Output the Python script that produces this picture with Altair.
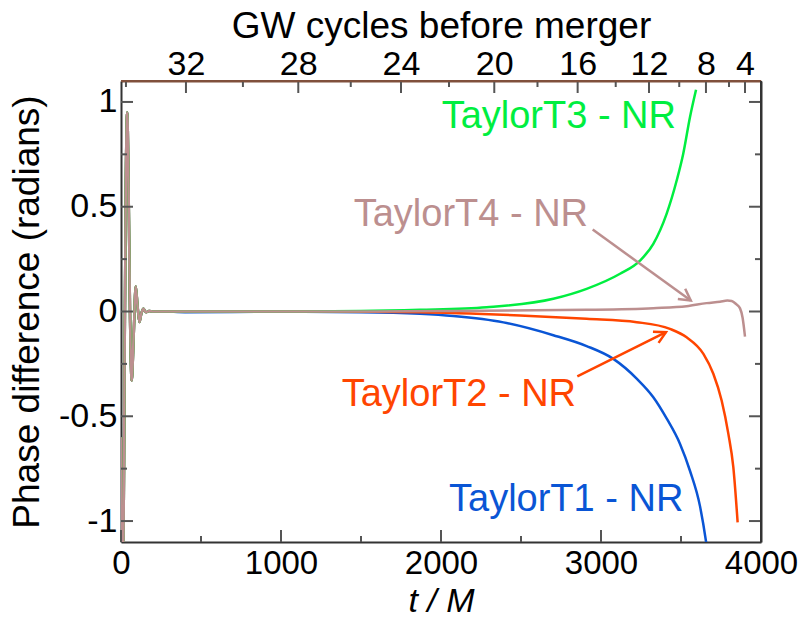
import math
import altair as alt
import pandas as pd

W, H = 640, 461
X_DOM = [0, 4000]
Y_DOM = [-1.1, 1.1]
FONT = "Liberation Sans"

series_names = ["TaylorT1 - NR", "TaylorT2 - NR", "TaylorT3 - NR", "TaylorT4 - NR"]
series_colors = ["#0a55d5", "#ff4500", "#00ee40", "#bc8f8f"]

# shared ringing at the start (all four curves nearly coincide)
early_t = [0, 6, 14, 22, 30, 39, 48, 57, 67, 79, 92, 103, 115, 127, 140, 156, 175, 200, 260]
early_phase = [-0.6, -1.5, -1.3, -0.3, 0.6, 0.95, 0.55, -0.05, -0.33, -0.12, 0.12, 0.03, -0.05, -0.01, 0.013, -0.004, 0.002, 0.0, 0.0]

t1_t = [400, 1000, 1500, 1869, 2077, 2390, 2702, 2910, 3077, 3223, 3327, 3410, 3494, 3556, 3619, 3656, 3690]
t1_phase = [-0.003, -0.001, -0.003, -0.011, -0.022, -0.052, -0.113, -0.165, -0.226, -0.320, -0.409, -0.51, -0.632, -0.76, -0.93, -1.096, -1.3]

t2_t = [400, 1000, 1500, 1869, 2494, 2910, 3223, 3431, 3535, 3640, 3702, 3754, 3796, 3827, 3854]
t2_phase = [0.0, 0.0, -0.001, -0.003, -0.019, -0.035, -0.051, -0.083, -0.123, -0.202, -0.297, -0.425, -0.584, -0.743, -1.006]

t3_t = [400, 1000, 1500, 1869, 2285, 2702, 2910, 3119, 3244, 3327, 3410, 3473, 3514, 3556, 3594]
t3_phase = [0.0, 0.0, 0.002, 0.008, 0.0205, 0.0606, 0.108, 0.18, 0.243, 0.323, 0.466, 0.625, 0.753, 0.927, 1.058]

t4_t = [400, 1000, 1500, 2000, 2910, 3327, 3535, 3660, 3744, 3790, 3817, 3845, 3869, 3885, 3900]
t4_phase = [0.0, 0.0, 0.0, 0.002, 0.008, 0.016, 0.025, 0.04, 0.047, 0.052, 0.05, 0.035, 0.015, -0.03, -0.12]

late_t = [t1_t, t2_t, t3_t, t4_t]
late_phase = [t1_phase, t2_phase, t3_phase, t4_phase]

# axis ticks
x_major = [0, 1000, 2000, 3000, 4000]
x_minor = [500, 1500, 2500, 3500]
y_major = [-1, -0.5, 0, 0.5, 1]
y_minor = [-0.75, -0.25, 0.25, 0.75]
cycle_labels = ["32", "28", "24", "20", "16", "12", "8", "4"]
cycle_t = [406, 1108, 1750, 2333, 2854, 3300, 3656, 3900]
cycle_minor_t = [31, 762, 1436, 2050, 2603, 3092, 3489, 3800]

# annotations
ann_text = ["TaylorT1 - NR", "TaylorT2 - NR", "TaylorT3 - NR", "TaylorT4 - NR"]
ann_t = [2050, 2844, 2004, 2919]
ann_phase = [-0.95, -0.449, 0.8735, 0.407]
ann_align = ["left", "right", "left", "right"]

arrow_series = ["TaylorT4 - NR", "TaylorT2 - NR"]
arrow_t0 = [2948, 2852]
arrow_p0 = [0.391, -0.310]
arrow_t1 = [3561, 3406]
arrow_p1 = [0.0525, -0.0988]

color_of = dict(zip(series_names, series_colors))

rows = []
for name, lt, lp in zip(series_names, late_t, late_phase):
    for t, p in zip(early_t + lt, early_phase + lp):
        rows.append({"series": name, "t": t, "phase": p})
df = pd.DataFrame(rows)

xs = alt.Scale(domain=X_DOM, nice=False, zero=False)
ys = alt.Scale(domain=Y_DOM, nice=False, zero=False)

AX_COLOR = "#333333"
TOP_COLOR = "#80503c"
TICK_COLOR = "#555555"

lines = alt.Chart(df).mark_line(clip=True, strokeWidth=2.5, interpolate="monotone").encode(
    x=alt.X("t:Q", scale=xs, axis=alt.Axis(
        orient="bottom", values=x_major, ticks=False, grid=False, labelFlush=False,
        labelExpr="toString(datum.value)",
        domainColor=AX_COLOR, domainWidth=2, labelFont=FONT, labelFontSize=33,
        labelColor="black", labelPadding=5, title="t / M", titleFont=FONT,
        titleFontSize=34, titleFontStyle="italic", titleFontWeight="normal",
        titleColor="black", titleBaseline="alphabetic", titleY=69)),
    y=alt.Y("phase:Q", scale=ys, axis=alt.Axis(
        orient="left", values=y_major, ticks=False, grid=False, labelFlush=False,
        labelExpr="toString(datum.value)", domainColor=AX_COLOR, domainWidth=2,
        labelFont=FONT, labelFontSize=34, labelColor="black", labelPadding=4,
        title="Phase difference (radians)", titleFont=FONT, titleFontSize=37,
        titleFontWeight="normal", titleColor="black", titleBaseline="alphabetic",
        titleX=-83, titleY=H / 2, titleAlign="center")),
    color=alt.Color("series:N", scale=alt.Scale(domain=series_names, range=series_colors), legend=None),
)

lbl_expr = "[" + ",".join("'%s'" % c for c in cycle_labels) + "][indexof([" + ",".join(str(v) for v in cycle_t) + "], datum.value)]"
top_axis = alt.Chart(pd.DataFrame({"t": cycle_t})).mark_tick(
    orient="vertical", size=12, thickness=2, color=TICK_COLOR, opacity=1).encode(
    x=alt.X("t:Q", scale=xs, axis=alt.Axis(
        orient="top", values=cycle_t, ticks=False, grid=False, labelFlush=False,
        labelExpr=lbl_expr, domainColor=TOP_COLOR, domainWidth=2, labelFont=FONT,
        labelFontSize=34, labelColor="black", labelPadding=0,
        title="GW cycles before merger", titleFont=FONT, titleFontSize=37,
        titleFontWeight="normal", titleColor="black", titleBaseline="alphabetic",
        titleY=-44)),
    y=alt.value(6))
top_minor = alt.Chart(pd.DataFrame({"t": cycle_minor_t})).mark_tick(
    orient="vertical", size=6, thickness=2, color=TICK_COLOR, opacity=1).encode(
    x=alt.X("t:Q", scale=xs, axis=None), y=alt.value(3))

bot_major = alt.Chart(pd.DataFrame({"t": x_major})).mark_tick(
    orient="vertical", size=12, thickness=2, color=TICK_COLOR, opacity=1).encode(
    x=alt.X("t:Q", scale=xs, axis=None), y=alt.value(H - 6))
bot_minor = alt.Chart(pd.DataFrame({"t": x_minor})).mark_tick(
    orient="vertical", size=6, thickness=2, color=TICK_COLOR, opacity=1).encode(
    x=alt.X("t:Q", scale=xs, axis=None), y=alt.value(H - 3))

left_major = alt.Chart(pd.DataFrame({"p": y_major})).mark_tick(
    orient="horizontal", size=12, thickness=2, color=TICK_COLOR, opacity=1).encode(
    y=alt.Y("p:Q", scale=ys, axis=None), x=alt.value(6))
left_minor = alt.Chart(pd.DataFrame({"p": y_minor})).mark_tick(
    orient="horizontal", size=6, thickness=2, color=TICK_COLOR, opacity=1).encode(
    y=alt.Y("p:Q", scale=ys, axis=None), x=alt.value(3))
right_major = alt.Chart(pd.DataFrame({"p": y_major})).mark_tick(
    orient="horizontal", size=12, thickness=2, color=TICK_COLOR, opacity=1).encode(
    y=alt.Y("p:Q", scale=ys, axis=alt.Axis(
        orient="right", labels=False, ticks=False, grid=False, title=None,
        domainColor=AX_COLOR, domainWidth=2)),
    x=alt.value(W - 6))
right_minor = alt.Chart(pd.DataFrame({"p": y_minor})).mark_tick(
    orient="horizontal", size=6, thickness=2, color=TICK_COLOR, opacity=1).encode(
    y=alt.Y("p:Q", scale=ys, axis=None), x=alt.value(W - 3))

# frame lines (top brown, right dark)
top_frame = alt.Chart(pd.DataFrame({"k": [0]})).mark_rule(color=TOP_COLOR, strokeWidth=2).encode(
    x=alt.value(0), x2=alt.value(W), y=alt.value(0))
right_frame = alt.Chart(pd.DataFrame({"k": [0]})).mark_rule(color=AX_COLOR, strokeWidth=2).encode(
    x=alt.value(W), y=alt.value(0), y2=alt.value(H))

# annotations
ann_df = pd.DataFrame({"text": ann_text, "t": ann_t, "phase": ann_phase,
                       "align": ann_align, "color": [color_of[s] for s in ann_text]})
texts = []
for al in ["left", "right"]:
    texts.append(alt.Chart(ann_df[ann_df["align"] == al]).mark_text(
        align=al, baseline="alphabetic", font=FONT, fontSize=38).encode(
        x=alt.X("t:Q", scale=xs, axis=None), y=alt.Y("phase:Q", scale=ys, axis=None),
        text="text:N", color=alt.Color("color:N", scale=None)))

px_t = W / (X_DOM[1] - X_DOM[0])
px_p = H / (Y_DOM[1] - Y_DOM[0])
arr_df = pd.DataFrame({"series": arrow_series, "t0": arrow_t0, "p0": arrow_p0,
                       "t1": arrow_t1, "p1": arrow_p1,
                       "color": [color_of[s] for s in arrow_series]})
arr_df["angle"] = [
    math.degrees(math.atan2(-(b1 - b0) * px_p, (a1 - a0) * px_t)) % 360
    for a0, b0, a1, b1 in zip(arr_df.t0, arr_df.p0, arr_df.t1, arr_df.p1)]

arrow_lines = alt.Chart(arr_df).mark_rule(strokeWidth=2.5).encode(
    x=alt.X("t0:Q", scale=xs, axis=None), y=alt.Y("p0:Q", scale=ys, axis=None),
    x2="t1:Q", y2="p1:Q", color=alt.Color("color:N", scale=None))
arrow_heads = alt.Chart(arr_df).mark_point(
    shape="M-1,-0.55L0,0L-1,0.55", filled=False, strokeWidth=2.5, size=520, opacity=1).encode(
    x=alt.X("t1:Q", scale=xs, axis=None), y=alt.Y("p1:Q", scale=ys, axis=None),
    angle=alt.Angle("angle:Q", scale=None), color=alt.Color("color:N", scale=None))

chart = alt.layer(
    lines, top_axis, top_minor, bot_major, bot_minor, left_major, left_minor,
    right_major, right_minor, top_frame, right_frame,
    arrow_lines, arrow_heads, *texts
).resolve_axis(x="independent", y="independent").properties(
    width=W, height=H,
    autosize=alt.AutoSizeParams(type="none"),
    padding={"left": 121, "top": 81, "right": 44, "bottom": 76},
).configure_view(stroke=None).configure(background="white")

chart.save("out.html", embed_options={"renderer": "svg", "actions": False})
